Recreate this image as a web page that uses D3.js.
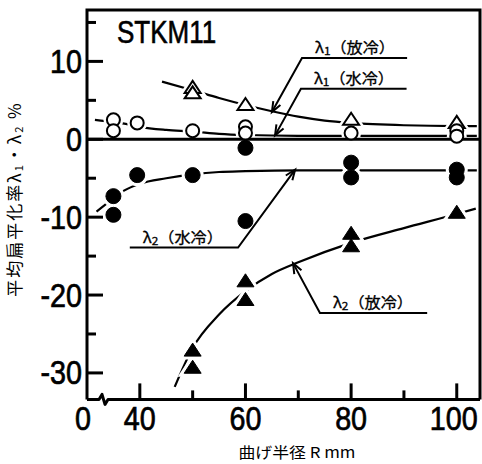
<!DOCTYPE html>
<html>
<head>
<meta charset="utf-8">
<script src="https://cdn.jsdelivr.net/npm/d3@7"></script>
<style>
  body { margin: 0; background: #fff; }
  svg { display: block; }
</style>
</head>
<body>
<svg id="chart"></svg>
<script>
// measured points, [R mm, %]
// λ1 (放冷) – open triangles
const lam1AirPts = [[50, 6.6], [50, 5.9], [60, 4.4], [80, 2.5], [100, 2.1]];
const lam1AirCurve = [[44.2, 7.4], [50, 6.3], [55, 5.3], [60, 4.4], [65, 3.6], [70, 2.9], [75, 2.4], [80, 2.1], [90, 1.8], [100, 1.7], [103.8, 1.7]];
// λ1 (水冷) – open circles
const lam1WaterPts = [[35, 2.5], [35, 1.1], [39.5, 2.1], [50, 1.1], [60, 1.6], [60, 0.8], [80, 0.8], [100, 1.1], [100, 0.4]];
const lam1WaterCurve = [[31.5, 2.5], [35, 2.2], [38, 1.9], [40, 1.6], [45, 1.2], [50, 1.0], [55, 0.7], [60, 0.55], [70, 0.45], [103.8, 0.45]];
// λ2 (水冷) – filled circles
const lam2WaterPts = [[35, -7.3], [35, -9.7], [39.5, -4.6], [50, -4.6], [60, -1.1], [60, -10.5], [80, -3.0], [80, -4.9], [100, -3.9], [100, -4.9]];
const lam2WaterCurve = [[31.8, -9.3], [35, -7.6], [37, -6.6], [40, -5.7], [45, -5.0], [50, -4.5], [55, -4.2], [60, -4.1], [70, -4.0], [103.8, -4.0]];
// λ2 (放冷) – filled triangles
const lam2AirPts = [[50, -27.2], [50, -29.4], [60, -18.3], [60, -20.7], [80, -12.2], [80, -13.8], [100, -9.5]];
const lam2AirCurve = [[46.6, -31.8], [50, -26.8], [55, -22.5], [60, -19.5], [65, -17.3], [70, -15.8], [80, -13.3], [90, -11.4], [100, -9.6], [103.6, -8.9]];

// axes
const xMajor = [40, 60, 80, 100];
const xMinor = [50, 70, 90];
const xTickLabels = [["0", 30], ["40", 40], ["60", 60], ["80", 80], ["100", 100]];
const yMajor = [10, 0, -10, -20, -30];
const yMinor = [15, 5, -5, -15, -25];
const yTickLabels = ["10", "0", "-10", "-20", "-30"];

// leader labels: tip, corner, end of underline
const leaders = [
  { sub: "1", note: "（放冷）", pts: [[65, 3.5], [70.7, 10.45], [90.6, 10.45]] },
  { sub: "1", note: "（水冷）", pts: [[65.6, 0.5], [70.5, 6.5], [90.5, 6.5]] },
  { sub: "2", note: "（水冷）", pts: [[69.4, -3.9], [58.6, -13.9], [38.1, -13.9]] },
  { sub: "2", note: "（放冷）", pts: [[69, -15.9], [74.1, -22.3], [94.4, -22.3]] }
];

const width = 482, height = 464;
const numFont = "'Liberation Sans', sans-serif";
const cjk = "'Noto Sans CJK JP', 'Noto Sans', sans-serif";
const squeeze = 0.87; // the scan uses a condensed face

const svg = d3.select("#chart").attr("width", width).attr("height", height);

const x = d3.scaleLinear().domain([30, 104.4]).range([87, 480]);
const y = d3.scaleLinear().domain([16.6, -33.4]).range([10, 399.4]);

const line = d3.line().x(d => x(d[0])).y(d => y(d[1])).curve(d3.curveMonotoneX);

// curves
const curves = svg.append("g").attr("fill", "none").attr("stroke", "#000").attr("stroke-width", 2.2);
[lam1AirCurve, lam1WaterCurve, lam2WaterCurve, lam2AirCurve].forEach(c => {
  curves.append("path").attr("d", line(c));
});

// marker shapes
const triOpen = "M0,-7L8,5L-8,5Z";
const triFill = "M0,-8L8.5,5L-8.5,5Z";
const markerSets = [
  { data: lam1AirPts, kind: "tri", path: triOpen, fill: "#fff" },
  { data: lam1WaterPts, kind: "circle", r: 6.5, fill: "#fff" },
  { data: lam2WaterPts, kind: "circle", r: 7.5, fill: "#000" },
  { data: lam2AirPts, kind: "tri", path: triFill, fill: "#000" }
];

function drawMarkers(g, set, halo) {
  const sel = g.selectAll(null).data(set.data).enter();
  let m;
  if (set.kind === "circle") {
    m = sel.append("circle").attr("cx", d => x(d[0])).attr("cy", d => y(d[1])).attr("r", set.r);
  } else {
    m = sel.append("path").attr("d", set.path)
      .attr("transform", d => `translate(${x(d[0])},${y(d[1])})`);
  }
  if (halo) {
    m.attr("fill", "#fff").attr("stroke", "#fff").attr("stroke-width", 7);
  } else {
    m.attr("fill", set.fill).attr("stroke", "#000").attr("stroke-width", set.fill === "#fff" ? 2 : 1);
  }
}

const halos = svg.append("g");
markerSets.forEach(s => drawMarkers(halos, s, true));

// frame and axes
const frame = svg.append("g").attr("stroke", "#000").attr("fill", "none").attr("stroke-width", 3);
const x0 = x(30), x1 = x(104.4), yT = y(16.6), yB = y(-33.4);
frame.append("path").attr("d", `M${x0},${yB}L${x0},${yT}L${x1},${yT}L${x1},${yB}`);
frame.append("path")
  .attr("d", `M${x0},${yB}L${x0 + 12},${yB}L${x0 + 15},${yB - 5}L${x0 + 18},${yB + 5}L${x0 + 21},${yB}L${x1},${yB}`)
  .attr("stroke-linejoin", "round");
frame.append("line").attr("x1", x0).attr("x2", x1).attr("y1", y(0)).attr("y2", y(0));

const ticks = svg.append("g").attr("stroke", "#000").attr("stroke-width", 3);
ticks.selectAll(".xmaj").data(xMajor).enter().append("line")
  .attr("x1", d => x(d)).attr("x2", d => x(d)).attr("y1", yB).attr("y2", yB - 16);
ticks.selectAll(".xmin").data(xMinor).enter().append("line")
  .attr("x1", d => x(d)).attr("x2", d => x(d)).attr("y1", yB).attr("y2", yB - 9);
ticks.selectAll(".ymaj").data(yMajor).enter().append("line")
  .attr("x1", x0).attr("x2", x0 + 16).attr("y1", d => y(d)).attr("y2", d => y(d));
ticks.selectAll(".ymin").data(yMinor).enter().append("line")
  .attr("x1", x0).attr("x2", x0 + 9).attr("y1", d => y(d)).attr("y2", d => y(d));

// markers
const marks = svg.append("g");
markerSets.forEach(s => drawMarkers(marks, s, false));

// tick labels
svg.append("g").selectAll("text").data(xTickLabels).enter().append("text")
  .attr("transform", d => {
    const cx = x(d[1]) - (d[1] === 30 ? 4 : d[1] === 100 ? 3 : 0);
    return `translate(${cx},${yB + 31}) scale(${squeeze},1)`;
  })
  .attr("text-anchor", "middle")
  .attr("stroke", "#000").attr("stroke-width", 0.7)
  .style("font-family", numFont).style("font-size", "33px")
  .text(d => d[0]);

svg.append("g").selectAll("text").data(yMajor).enter().append("text")
  .attr("transform", d => `translate(${x0 - 5},${y(d) + 11.5}) scale(${squeeze},1)`)
  .attr("text-anchor", "end")
  .attr("stroke", "#000").attr("stroke-width", 0.7)
  .style("font-family", numFont).style("font-size", "33px")
  .text((d, i) => yTickLabels[i]);

// title
svg.append("text").attr("transform", "translate(117,43) scale(0.84,1)")
  .attr("stroke", "#000").attr("stroke-width", 0.6)
  .style("font-family", numFont).style("font-size", "31px")
  .text("STKM11");

// leader lines with open arrow heads
const lg = svg.append("g").attr("stroke", "#000").attr("stroke-width", 2).attr("fill", "none");
leaders.forEach(l => {
  const p = l.pts.map(d => [x(d[0]), y(d[1])]);
  lg.append("path").attr("d", d3.line()(p));
  const ang = Math.atan2(p[0][1] - p[1][1], p[0][0] - p[1][0]);
  const len = 11, spread = 0.38;
  const a1 = [p[0][0] - len * Math.cos(ang - spread), p[0][1] - len * Math.sin(ang - spread)];
  const a2 = [p[0][0] - len * Math.cos(ang + spread), p[0][1] - len * Math.sin(ang + spread)];
  lg.append("path").attr("d", d3.line()([a1, p[0], a2]));

  const left = Math.min(p[1][0], p[2][0]);
  const t = svg.append("text")
    .attr("x", left + 13).attr("y", p[1][1] - 5)
    .attr("textLength", 80).attr("lengthAdjust", "spacingAndGlyphs")
    .attr("stroke", "#000").attr("stroke-width", 0.3)
    .style("font-family", cjk).style("font-size", "15px");
  t.append("tspan").text("λ");
  t.append("tspan").attr("dy", 2).style("font-size", "11px").text(l.sub);
  t.append("tspan").attr("dy", -2).text(l.note);
});

// axis titles
svg.append("text").attr("x", 297).attr("y", 458)
  .attr("text-anchor", "middle")
  .attr("textLength", 117).attr("lengthAdjust", "spacingAndGlyphs")
  .style("font-family", cjk).style("font-size", "15px")
  .text("曲げ半径 R mm");

const yt = svg.append("text")
  .attr("transform", "translate(21,199) rotate(-90)")
  .attr("text-anchor", "middle")
  .style("font-family", cjk).style("font-size", "17px")
  .style("letter-spacing", "2px");
yt.append("tspan").text("平均扁平化率λ");
yt.append("tspan").attr("dy", 2).style("font-size", "11px").text("1");
yt.append("tspan").attr("dy", -2).text("・λ");
yt.append("tspan").attr("dy", 2).style("font-size", "11px").text("2");
yt.append("tspan").attr("dy", -2).text(" %");
</script>
</body>
</html>
